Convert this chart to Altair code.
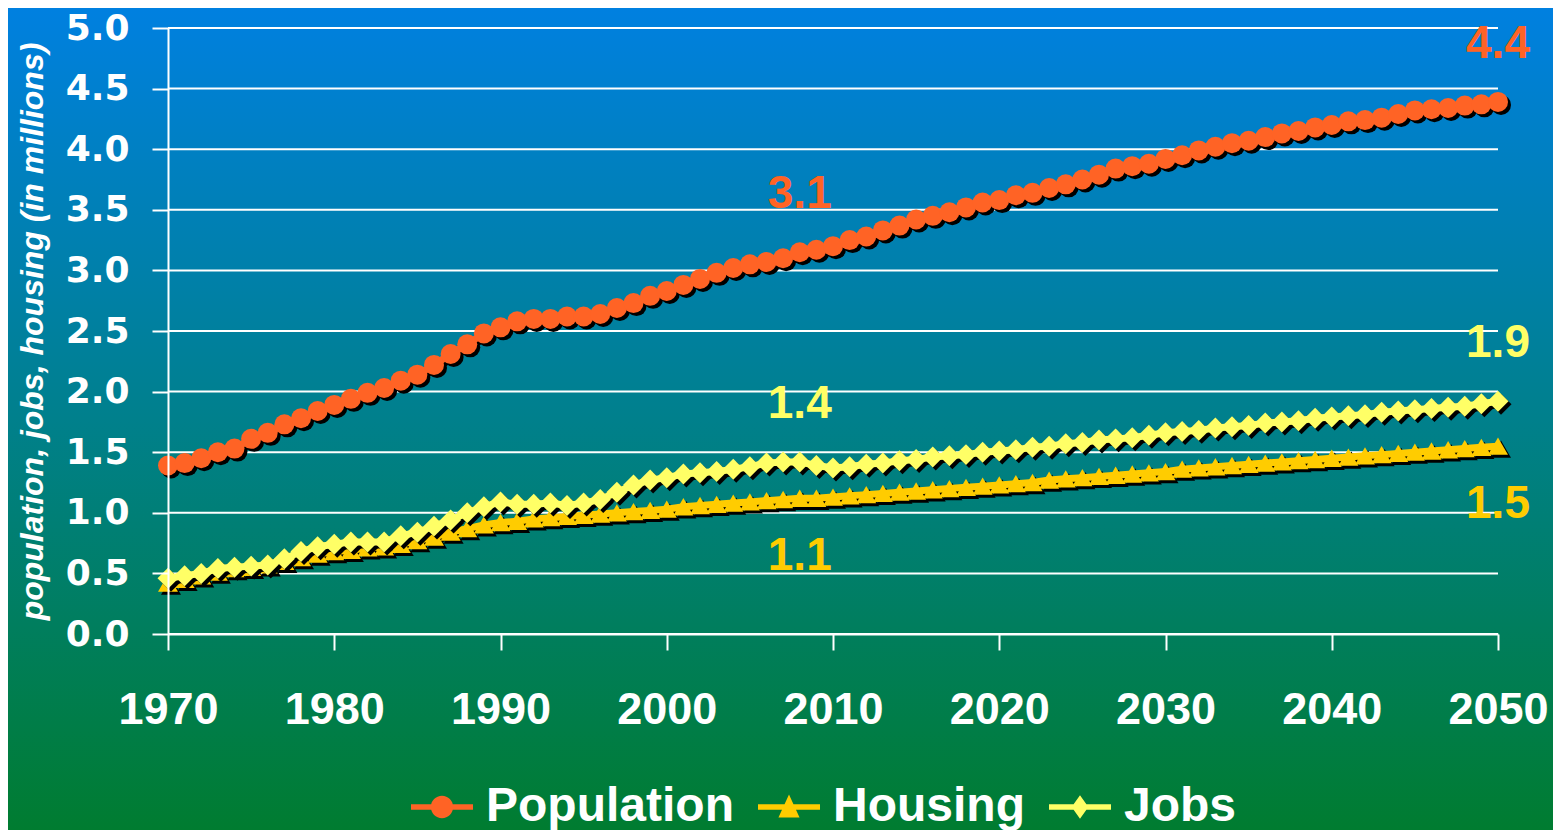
import altair as alt
import pandas as pd

years = list(range(1970, 2051))

population = [1.39, 1.41, 1.45, 1.50, 1.53, 1.61, 1.66, 1.73, 1.78, 1.84,
              1.89, 1.94, 1.99, 2.03, 2.09, 2.14, 2.22, 2.31, 2.39, 2.48,
              2.53, 2.58, 2.60, 2.60, 2.62, 2.62, 2.64, 2.69, 2.73, 2.79,
              2.83, 2.88, 2.93, 2.98, 3.02, 3.05, 3.07, 3.10, 3.15, 3.17,
              3.20, 3.25, 3.28, 3.33, 3.37, 3.42, 3.45, 3.48, 3.52, 3.56,
              3.58, 3.62, 3.64, 3.68, 3.71, 3.75, 3.79, 3.84, 3.86, 3.88,
              3.92, 3.95, 3.99, 4.02, 4.05, 4.07, 4.10, 4.13, 4.15, 4.18,
              4.20, 4.23, 4.24, 4.26, 4.29, 4.32, 4.33, 4.34, 4.36, 4.37,
              4.39]

housing = [0.42, 0.45, 0.48, 0.51, 0.54, 0.55, 0.57, 0.60, 0.63, 0.66,
           0.68, 0.69, 0.71, 0.72, 0.74, 0.77, 0.80, 0.84, 0.87, 0.90,
           0.92, 0.93, 0.95, 0.96, 0.97, 0.98, 0.99, 1.00, 1.01, 1.02,
           1.03, 1.05, 1.06, 1.07, 1.08, 1.09, 1.10, 1.11, 1.12, 1.12,
           1.13, 1.14, 1.15, 1.16, 1.17, 1.18, 1.19, 1.20, 1.21, 1.22,
           1.23, 1.24, 1.25, 1.27, 1.28, 1.29, 1.30, 1.31, 1.32, 1.33,
           1.34, 1.36, 1.37, 1.38, 1.39, 1.40, 1.41, 1.42, 1.43, 1.44,
           1.45, 1.46, 1.47, 1.48, 1.49, 1.50, 1.51, 1.52, 1.53, 1.54,
           1.55]

jobs = [0.46, 0.48, 0.50, 0.54, 0.55, 0.56, 0.57, 0.62, 0.68, 0.72,
        0.74, 0.76, 0.76, 0.76, 0.81, 0.84, 0.89, 0.94, 1.00, 1.05,
        1.09, 1.07, 1.07, 1.08, 1.06, 1.08, 1.11, 1.17, 1.23, 1.27,
        1.29, 1.32, 1.33, 1.34, 1.36, 1.38, 1.41, 1.42, 1.42, 1.39,
        1.37, 1.38, 1.40, 1.41, 1.43, 1.44, 1.46, 1.47, 1.48, 1.50,
        1.51, 1.52, 1.54, 1.55, 1.57, 1.58, 1.60, 1.61, 1.62, 1.64,
        1.66, 1.67, 1.68, 1.70, 1.71, 1.72, 1.74, 1.75, 1.76, 1.78,
        1.79, 1.80, 1.81, 1.83, 1.84, 1.85, 1.86, 1.87, 1.88, 1.90,
        1.92]

series_names = ["Population", "Housing", "Jobs"]
series_colors = ["#FF6325", "#FFCC00", "#FFFF66"]
series_values = [population, housing, jobs]

x_ticks = [1970, 1980, 1990, 2000, 2010, 2020, 2030, 2040, 2050]
y_ticks = [0.0, 0.5, 1.0, 1.5, 2.0, 2.5, 3.0, 3.5, 4.0, 4.5, 5.0]

label_years = [2008, 2050]
label_texts = {"Population": ["3.1", "4.4"], "Housing": ["1.1", "1.5"], "Jobs": ["1.4", "1.9"]}

y_title = "population, jobs, housing (in millions)"

# ---------- tables ----------
rows = []
for name, vals in zip(series_names, series_values):
    for yr, v in zip(years, vals):
        rows.append({"year": yr, "series": name, "value": v})
df = pd.DataFrame(rows)

lab_rows = []
for name, col, vals in zip(series_names, series_colors, series_values):
    for yr, t in zip(label_years, label_texts[name]):
        lab_rows.append({"year": yr, "series": name, "value": vals[yr - years[0]],
                         "text": t, "tcolor": col})
labels_df = pd.DataFrame(lab_rows)
grid_df = pd.DataFrame({"tick": y_ticks})

W, H = 1330, 606
PAD = {"left": 160, "top": 20, "right": 55, "bottom": 196}

x_axis = alt.Axis(values=x_ticks, format="d", title=None, grid=False,
                  labelFont="Liberation Sans", labelFontWeight="bold", labelFontSize=45,
                  labelColor="white", labelPadding=37, labelFlush=False, labelOverlap=False,
                  tickSize=16, tickColor="white", tickWidth=2,
                  domainColor="white", domainWidth=2, zindex=1)
y_axis = alt.Axis(values=y_ticks, format=".1f", title=y_title, grid=False,
                  labelFont="DejaVu Sans", labelFontWeight="bold", labelFontSize=36,
                  labelColor="white", labelPadding=23,
                  tickSize=16, tickColor="white", tickWidth=2,
                  domainColor="white", domainWidth=2,
                  titleFont="Liberation Sans", titleFontStyle="italic", titleFontWeight="bold",
                  titleFontSize=32, titleColor="white", titlePadding=16, zindex=1)

x_enc = alt.X("year:Q", scale=alt.Scale(domain=[1970, 2050], nice=False, zero=False), axis=x_axis)
y_enc = alt.Y("value:Q", scale=alt.Scale(domain=[0, 5], nice=False), axis=y_axis)

# background gradient (covers whole chart incl. padding)
grad = alt.LinearGradient(gradient="linear", x1=0, x2=0, y1=0, y2=1,
                          stops=[alt.GradientStop(color="#0080E0", offset=0),
                                 alt.GradientStop(color="#00808C", offset=0.5),
                                 alt.GradientStop(color="#007C30", offset=1)])
bg = alt.Chart(pd.DataFrame({"a": [0]})).mark_rect(fill=grad).encode(
    x=alt.value(-PAD["left"]), x2=alt.value(W + PAD["right"]),
    y=alt.value(-PAD["top"]), y2=alt.value(H + PAD["bottom"]))

grid = alt.Chart(grid_df).mark_rule(color="white", strokeWidth=2).encode(
    y=alt.Y("tick:Q", scale=alt.Scale(domain=[0, 5], nice=False), axis=y_axis),
    x=alt.value(0), x2=alt.value(W))

layers = [bg, grid]
styles = {"Population": ("circle", 400), "Housing": ("triangle-up", 400), "Jobs": ("diamond", 440)}
for name in ["Housing", "Jobs", "Population"]:
    col = series_colors[series_names.index(name)]
    shp, sz = styles[name]
    base = alt.Chart(df).transform_filter(alt.datum.series == name).encode(x=x_enc, y=y_enc)
    layers += [
        base.mark_line(color="black", strokeWidth=7, xOffset=3, yOffset=3),
        base.mark_point(filled=True, shape=shp, size=sz, color="black", opacity=1,
                        strokeWidth=0, xOffset=3, yOffset=3),
        base.mark_line(color=col, strokeWidth=7),
        base.mark_point(filled=True, shape=shp, size=sz, color=col, opacity=1, strokeWidth=0),
    ]

text_base = alt.Chart(labels_df).encode(
    x=x_enc, y=y_enc, text="text:N", color=alt.Color("tcolor:N", scale=None))
above = text_base.transform_filter(alt.datum.series != "Housing").mark_text(
    font="Liberation Sans", fontWeight="bold", fontSize=46, align="center",
    baseline="middle", dy=-58)
below = text_base.transform_filter(alt.datum.series == "Housing").mark_text(
    font="Liberation Sans", fontWeight="bold", fontSize=46, align="center",
    baseline="middle", dy=58)
layers += [above, below]

bar = "M-1,-0.09H1V0.09H-1Z "
legend_paths = [
    bar + "M0,-0.36A0.36,0.36 0 1 1 0,0.36A0.36,0.36 0 1 1 0,-0.36Z",
    bar + "M0,-0.4L0.34,0.34L-0.34,0.34Z",
    bar + "M0,-0.38L0.27,0L0,0.38L-0.27,0Z",
]
leg = alt.Legend(title=None, orient="none", legendX=243, legendY=748, direction="horizontal",
                 symbolSize=3844, symbolStrokeWidth=0, symbolOpacity=1,
                 labelColor="white", labelFont="Liberation Sans", labelFontWeight="bold",
                 labelFontSize=48, labelLimit=500, labelOffset=13, columnPadding=24,
                 padding=0, offset=0)
legend_layer = alt.Chart(df).transform_filter("false").mark_point(filled=True, opacity=1).encode(
    x=x_enc, y=y_enc,
    color=alt.Color("series:N", scale=alt.Scale(domain=series_names, range=series_colors), legend=leg),
    shape=alt.Shape("series:N", scale=alt.Scale(domain=series_names, range=legend_paths), legend=leg))
layers.append(legend_layer)

chart = alt.layer(*layers).properties(
    width=W, height=H,
    autosize=alt.AutoSizeParams(type="none"),
    padding=PAD,
).configure_view(stroke=None).configure(background="#00807F")

chart.save("out.html", embed_options={"renderer": "svg", "actions": False})
